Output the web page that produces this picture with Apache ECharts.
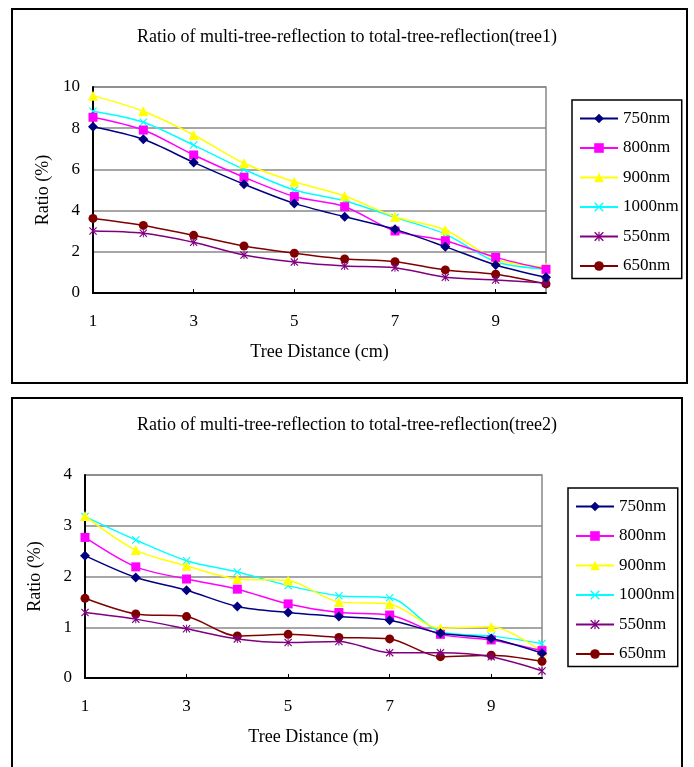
<!DOCTYPE html>
<html>
<head>
<meta charset="utf-8">
<script src="https://cdn.jsdelivr.net/npm/echarts@6/dist/echarts.min.js"></script>
<style>
  html, body { margin: 0; padding: 0; background: #fff; }
  #chart { width: 694px; height: 767px; }
</style>
</head>
<body>
<div id="chart"></div>
<script>
// tree distance categories (labels every other one)
const distances = ['1', '2', '3', '4', '5', '6', '7', '8', '9', '10'];
const wavelengths = ['750nm', '800nm', '900nm', '1000nm', '550nm', '650nm'];

// tree1, ratio in %
const tree1_750 = [8.07, 7.46, 6.34, 5.28, 4.35, 3.70, 3.09, 2.25, 1.36, 0.76];
const tree1_800 = [8.53, 7.91, 6.70, 5.62, 4.68, 4.19, 3.01, 2.54, 1.73, 1.15];
const tree1_900 = [9.58, 8.82, 7.67, 6.30, 5.40, 4.71, 3.70, 3.06, 1.64, 1.25];
const tree1_1000 = [8.82, 8.29, 7.18, 6.00, 5.00, 4.48, 3.67, 2.86, 1.52, 1.17];
const tree1_550 = [3.01, 2.90, 2.46, 1.84, 1.50, 1.31, 1.23, 0.76, 0.63, 0.48];
const tree1_650 = [3.62, 3.28, 2.80, 2.28, 1.93, 1.65, 1.52, 1.12, 0.91, 0.44];

// tree2, ratio in %
const tree2_750 = [2.41, 1.98, 1.73, 1.41, 1.29, 1.21, 1.14, 0.88, 0.78, 0.49];
const tree2_800 = [2.77, 2.19, 1.95, 1.75, 1.46, 1.29, 1.24, 0.86, 0.75, 0.54];
const tree2_900 = [3.19, 2.52, 2.21, 1.95, 1.92, 1.50, 1.46, 0.98, 1.01, 0.52];
const tree2_1000 = [3.18, 2.72, 2.31, 2.09, 1.82, 1.62, 1.58, 0.91, 0.83, 0.68];
const tree2_550 = [1.29, 1.16, 0.97, 0.77, 0.70, 0.72, 0.50, 0.50, 0.42, 0.14];
const tree2_650 = [1.57, 1.26, 1.21, 0.83, 0.86, 0.80, 0.77, 0.42, 0.45, 0.33];

const FONT = '"Liberation Serif", "Times New Roman", serif';

const crossPath = 'path://M0,1L1,0L5,4L9,0L10,1L6,5L10,9L9,10L5,6L1,10L0,9L4,5Z';
const starPath = 'path://M0,1L1,0L5,4L9,0L10,1L6,5L10,9L9,10L5,6L1,10L0,9L4,5ZM4.4,0L5.6,0L5.6,10L4.4,10Z';

const styles = [
  { color: '#000080', symbol: 'diamond', size: 10 },
  { color: '#ff00ff', symbol: 'rect', size: 9 },
  { color: '#ffff00', symbol: 'triangle', size: 10 },
  { color: '#00ffff', symbol: crossPath, size: 8 },
  { color: '#800080', symbol: starPath, size: 8 },
  { color: '#800000', symbol: 'circle', size: 9 }
];

const tree1Data = [tree1_750, tree1_800, tree1_900, tree1_1000, tree1_550, tree1_650];
const tree2Data = [tree2_750, tree2_800, tree2_900, tree2_1000, tree2_550, tree2_650];

const makeSeries = (dataList, axisIndex) => {
  return dataList.map((values, i) => ({
    name: wavelengths[i],
    type: 'line',
    xAxisIndex: axisIndex,
    yAxisIndex: axisIndex,
    data: values,
    smooth: 0.3,
    symbol: styles[i].symbol,
    symbolSize: styles[i].size,
    showAllSymbol: true,
    lineStyle: { color: styles[i].color, width: 1.5 },
    itemStyle: { color: styles[i].color },
    emphasis: { disabled: true },
    z: 10 - i
  }));
};

const makeXAxis = (gridIndex, name) => ({
  type: 'category',
  gridIndex: gridIndex,
  data: distances,
  boundaryGap: false,
  name: name,
  nameLocation: 'middle',
  nameGap: 50,
  nameTextStyle: { fontFamily: FONT, fontSize: 18, color: '#000' },
  axisLine: { lineStyle: { color: '#000', width: 2 } },
  axisTick: { show: true, inside: true, length: 4, interval: 1, lineStyle: { color: '#000' } },
  axisLabel: { interval: 1, margin: 20, fontFamily: FONT, fontSize: 17, color: '#000' },
  splitLine: { show: false }
});

const makeYAxis = (gridIndex, max, interval) => ({
  type: 'value',
  gridIndex: gridIndex,
  min: 0,
  max: max,
  interval: interval,
  name: 'Ratio (%)',
  nameLocation: 'middle',
  nameGap: 41,
  nameTextStyle: { fontFamily: FONT, fontSize: 18, color: '#000' },
  axisLine: { show: true, lineStyle: { color: '#000', width: 2 } },
  axisTick: { show: false },
  axisLabel: { margin: 13, fontFamily: FONT, fontSize: 17, color: '#000' },
  splitLine: { show: true, lineStyle: { color: '#888', width: 1.5 } }
});

const makeLegend = (left, top) => ({
  orient: 'vertical',
  left: left,
  top: top,
  data: wavelengths,
  itemWidth: 38,
  itemHeight: 12,
  itemGap: 12.5,
  padding: [10, 3, 4, 7],
  borderColor: '#000',
  borderWidth: 1.5,
  selectedMode: false,
  textStyle: { fontFamily: FONT, fontSize: 17, lineHeight: 16, color: '#000' }
});

const chart = echarts.init(document.getElementById('chart'));

chart.setOption({
  animation: false,
  backgroundColor: '#fff',
  graphic: [
    { type: 'rect', shape: { x: 12, y: 9, width: 675, height: 374 }, style: { fill: 'none', stroke: '#000', lineWidth: 2 }, z: -1 },
    { type: 'rect', shape: { x: 12, y: 398, width: 670, height: 400 }, style: { fill: 'none', stroke: '#000', lineWidth: 2 }, z: -1 }
  ],
  title: [
    {
      text: 'Ratio of multi-tree-reflection to total-tree-reflection(tree1)',
      left: 'center',
      top: 23,
      textStyle: { fontFamily: FONT, fontSize: 18, fontWeight: 'normal', color: '#000' }
    },
    {
      text: 'Ratio of multi-tree-reflection to total-tree-reflection(tree2)',
      left: 'center',
      top: 411,
      textStyle: { fontFamily: FONT, fontSize: 18, fontWeight: 'normal', color: '#000' }
    }
  ],
  legend: [makeLegend(572, 100), makeLegend(568, 488)],
  grid: [
    { left: 93, top: 87, width: 453, height: 206, show: true, borderColor: '#888', borderWidth: 1.5 },
    { left: 85, top: 475, width: 457, height: 203, show: true, borderColor: '#888', borderWidth: 1.5 }
  ],
  xAxis: [makeXAxis(0, 'Tree Distance (cm)'), makeXAxis(1, 'Tree Distance (m)')],
  yAxis: [makeYAxis(0, 10, 2), makeYAxis(1, 4, 1)],
  series: [...makeSeries(tree1Data, 0), ...makeSeries(tree2Data, 1)]
});

window.addEventListener('resize', () => chart.resize());
</script>
</body>
</html>
